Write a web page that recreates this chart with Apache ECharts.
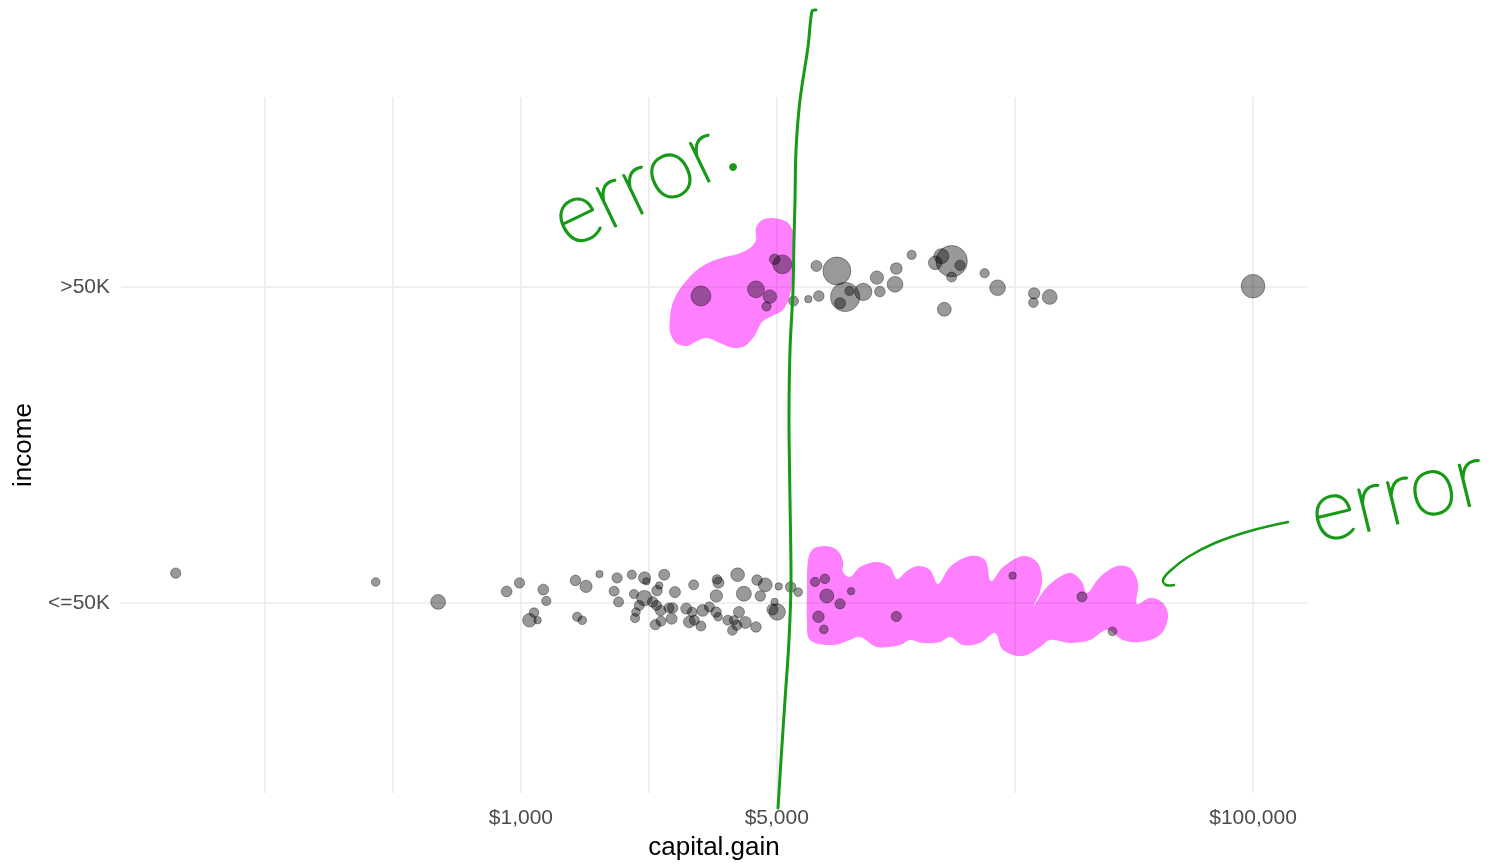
<!DOCTYPE html>
<html>
<head>
<meta charset="utf-8">
<title>capital.gain by income</title>
<script src="https://cdn.jsdelivr.net/npm/echarts@6/dist/echarts.min.js"></script>
<style>
  html, body { margin: 0; padding: 0; background: #ffffff; }
  #chart { width: 1512px; height: 866px; }
</style>
</head>
<body>
<div id="chart"></div>
<script>
// Income groups on the vertical axis (1 = <=50K, 2 = >50K)
const incomeLevels = ['<=50K', '>50K'];

// <=50K: distinct capital gains, jittered vertical position, number of people
const lowGain = [114, 401, 594, 914, 991, 1055, 1086, 1111, 1151, 1173,
  1409, 1424, 1471, 1506, 1639, 1797, 1831, 1848, 2009, 2036,
  2050, 2062, 2105, 2174, 2176, 2202, 2290, 2329, 2346, 2354,
  2387, 2407, 2414, 2463, 2538, 2580, 2597, 2635, 2829, 2885,
  2936, 2964, 2977, 3103, 3137, 3273, 3411, 3418, 3432, 3456,
  3464, 3674, 3781, 3818, 3887, 3908, 3942, 4064, 4101, 4386,
  4416, 4508, 4650, 4865, 4931, 5013, 5060, 5455, 5721, 6360,
  6497, 6723, 6767, 6849, 7443, 7978, 10605, 22040, 34095, 41310];
const lowPos = [1.095, 1.067, 1.004, 1.037, 1.064, 0.946, 0.970, 0.946, 1.043, 1.007,
  1.072, 0.957, 0.946, 1.053, 1.092, 1.038, 1.080, 1.004, 1.090, 1.029,
  0.953, 0.972, 0.993, 1.016, 1.080, 1.069, 1.004, 0.932, 0.993, 1.040,
  1.056, 0.977, 0.943, 1.090, 0.985, 0.951, 0.985, 1.035, 0.983, 0.941,
  0.972, 1.058, 0.946, 0.928, 0.977, 0.988, 0.972, 1.023, 1.075, 0.957,
  1.065, 0.946, 0.914, 0.946, 0.930, 1.090, 0.972, 1.030, 0.939, 0.925,
  1.073, 1.023, 1.058, 0.980, 1.004, 0.972, 1.053, 1.051, 1.035, 1.067,
  0.957, 0.917, 1.077, 1.023, 0.998, 1.038, 0.958, 1.087, 1.020, 0.911];
const lowCount = [6, 2, 34, 8, 6, 24, 4, 1, 8, 3,
  7, 3, 2, 15, 1, 5, 6, 5, 3, 3,
  3, 2, 5, 40, 14, 1, 7, 6, 5, 7,
  1, 7, 5, 9, 5, 9, 7, 9, 9, 13,
  4, 5, 5, 5, 12, 5, 7, 16, 4, 2,
  9, 5, 4, 3, 5, 25, 9, 36, 13, 7,
  7, 7, 26, 9, 1, 50, 1, 7, 2, 3,
  11, 2, 4, 27, 6, 1, 6, 1, 5, 2];

// >50K
const highGain = [3103, 4386, 4687, 4787, 4934, 5178, 5556, 6097, 6418, 6514,
  7298, 7443, 7688, 7896, 8614, 9386, 9562, 10520, 10605, 11678,
  13550, 14084, 14344, 15020, 15024, 15831, 18481, 20051, 25124, 25236,
  27828, 99999];
const highPos = [1.971, 1.992, 1.938, 1.969, 2.087, 2.071, 1.955, 1.961, 2.066, 1.971,
  2.050, 1.948, 1.968, 1.987, 1.984, 2.029, 1.985, 2.008, 2.058, 2.101,
  2.076, 2.097, 1.929, 2.031, 2.081, 2.068, 2.043, 1.997, 1.950, 1.979,
  1.968, 2.002];
const highCount = [97, 55, 3, 23, 7, 80, 5, 1, 9, 7,
  255, 9, 284, 3, 60, 22, 7, 43, 12, 3,
  25, 35, 26, 5, 347, 6, 3, 42, 4, 10,
  34, 159];

// Axis breaks
const xMajorTicks = [1000, 5000, 100000];
const xMajorLabels = ['$1,000', '$5,000', '$100,000'];
const xMinorTicks = [200, 447.2, 2236.1, 22360.7];
const yTicks = [1, 2];

const allCounts = lowCount.concat(highCount);
const countMin = Math.min.apply(null, allCounts);
const countMax = Math.max.apply(null, allCounts);

// Area-proportional point size (diameter grows with sqrt of the count)
function pointSize(n) {
  const t = Math.sqrt((n - countMin) / (countMax - countMin));
  return 7.4 + 24 * t;
}

function rows(gain, pos, count) {
  return gain.map((g, i) => [g, pos[i], count[i]]);
}

const pointStyle = {
  color: 'rgba(0,0,0,0.5)',
  borderColor: 'rgba(0,0,0,0.45)',
  borderWidth: 1
};

const tickText = { fontFamily: 'Liberation Sans, Arial, sans-serif', fontSize: 21, color: '#4d4d4d' };

const gridLines = []
  .concat(xMinorTicks.map(v => ({ xAxis: v, label: { show: false } })))
  .concat(xMajorTicks.map((v, i) => ({
    xAxis: v,
    label: Object.assign({ show: true, position: 'start', distance: 15, formatter: xMajorLabels[i] }, tickText)
  })))
  .concat(yTicks.map((v, i) => ({
    yAxis: v,
    label: Object.assign({ show: true, position: 'start', distance: 11, formatter: incomeLevels[i] }, tickText)
  })));

// Hand-drawn review marks laid over the plot
const ink = '#189a18';
const highlighter = '#ff80ff';
const handFont = '200 86px Lato, "Open Sans", sans-serif';

const annotations = [
  {
    type: 'polygon', z: 2, silent: true,
    shape: { smooth: 0.3, points: [
      [773,218],[787,222],[794,234],[795,250],[793,275],[790,295],[783,310],[772,316],[762,322],
      [755,335],[745,346],[733,348],[720,343],[707,338],[697,341],[687,346],[676,343],[670,332],
      [670,318],[672,305],[678,292],[687,280],[697,270],[710,262],[725,257],[738,254],[750,248],
      [756,240],[756,228],[762,220]
    ] },
    style: { fill: highlighter, blend: 'multiply' }
  },
  {
    type: 'polygon', z: 2, silent: true,
    shape: { smooth: 0.35, points: [
      [808,560],[813,549],[825,546],[837,550],[843,561],[843,572],[850,577],[860,567],[877,562],
      [890,567],[897,579],[907,571],[918,566],[930,570],[938,584],[950,567],[970,556],[985,560],
      [991,581],[1003,567],[1023,556],[1037,562],[1042,577],[1040,592],[1033,607],[1047,587],
      [1063,575],[1072,573],[1082,582],[1087,593],[1100,577],[1117,566],[1130,568],[1138,583],
      [1137,604],[1150,598],[1163,603],[1168,617],[1160,635],[1140,642],[1123,640],[1107,630],
      [1090,640],[1070,643],[1050,640],[1040,647],[1023,656],[1003,650],[995,633],[980,643],
      [963,645],[950,637],[940,642],[923,643],[910,640],[900,645],[877,647],[860,637],[850,640],
      [833,645],[810,640],[807,620],[807,590]
    ] },
    style: { fill: highlighter, blend: 'multiply' }
  },
  {
    type: 'polyline', z: 10, silent: true,
    shape: { smooth: 0.3, points: [
      [816,10],[812,11],[808,47],[800,100],[796,150],[795,200],[794,240],[793,290],[790,350],
      [789,420],[790,500],[791,580],[789,640],[785,700],[781,760],[778,808]
    ] },
    style: { stroke: ink, lineWidth: 3, fill: null, lineCap: 'round', lineJoin: 'round' }
  },
  {
    type: 'polyline', z: 10, silent: true,
    shape: { smooth: 0.4, points: [
      [1288,522],[1250,531],[1215,543],[1188,557],[1170,571],[1163,580],[1166,585],[1174,585]
    ] },
    style: { stroke: ink, lineWidth: 2.5, fill: null, lineCap: 'round', lineJoin: 'round' }
  },
  {
    type: 'text', z: 10, silent: true,
    x: 556, y: 224, rotation: 0.45,
    style: { text: 'error.', fill: ink, stroke: ink, lineWidth: 2.2, font: handFont, align: 'left', verticalAlign: 'middle' }
  },
  {
    type: 'text', z: 10, silent: true,
    x: 1311, y: 516, rotation: 0.24,
    style: { text: 'error', fill: ink, stroke: ink, lineWidth: 2.2, font: handFont, align: 'left', verticalAlign: 'middle' }
  }
];

const chart = echarts.init(document.getElementById('chart'), null, { renderer: 'canvas' });

chart.setOption({
  animation: false,
  backgroundColor: '#ffffff',
  textStyle: { fontFamily: 'Liberation Sans, Arial, sans-serif' },
  grid: { left: 121, right: 205, top: 97, bottom: 72, containLabel: false },
  xAxis: {
    type: 'log',
    logBase: 10,
    min: 80.8,
    max: 140440,
    name: 'capital.gain',
    nameLocation: 'middle',
    nameGap: 42,
    nameTextStyle: { fontSize: 26, color: '#000000', fontFamily: 'Liberation Sans, Arial, sans-serif' },
    axisLine: { show: false },
    axisTick: { show: false },
    axisLabel: { show: false },
    splitLine: { show: false },
    minorSplitLine: { show: false }
  },
  yAxis: {
    type: 'value',
    min: 0.4,
    max: 2.6,
    name: 'income',
    nameLocation: 'middle',
    nameGap: 84,
    nameRotate: 90,
    nameTextStyle: { fontSize: 26, color: '#000000', fontFamily: 'Liberation Sans, Arial, sans-serif' },
    axisLine: { show: false },
    axisTick: { show: false },
    axisLabel: { show: false },
    splitLine: { show: false }
  },
  graphic: { elements: annotations },
  series: [
    {
      type: 'scatter',
      name: incomeLevels[0],
      z: 3,
      silent: true,
      symbol: 'circle',
      symbolSize: d => pointSize(d[2]),
      itemStyle: pointStyle,
      data: rows(lowGain, lowPos, lowCount),
      markLine: {
        z: 1,
        silent: true,
        animation: false,
        symbol: ['none', 'none'],
        lineStyle: { type: 'solid', color: '#ebebeb', width: 1.6 },
        emphasis: { disabled: true },
        data: gridLines
      }
    },
    {
      type: 'scatter',
      name: incomeLevels[1],
      z: 3,
      silent: true,
      symbol: 'circle',
      symbolSize: d => pointSize(d[2]),
      itemStyle: pointStyle,
      data: rows(highGain, highPos, highCount)
    }
  ]
});
</script>
</body>
</html>
